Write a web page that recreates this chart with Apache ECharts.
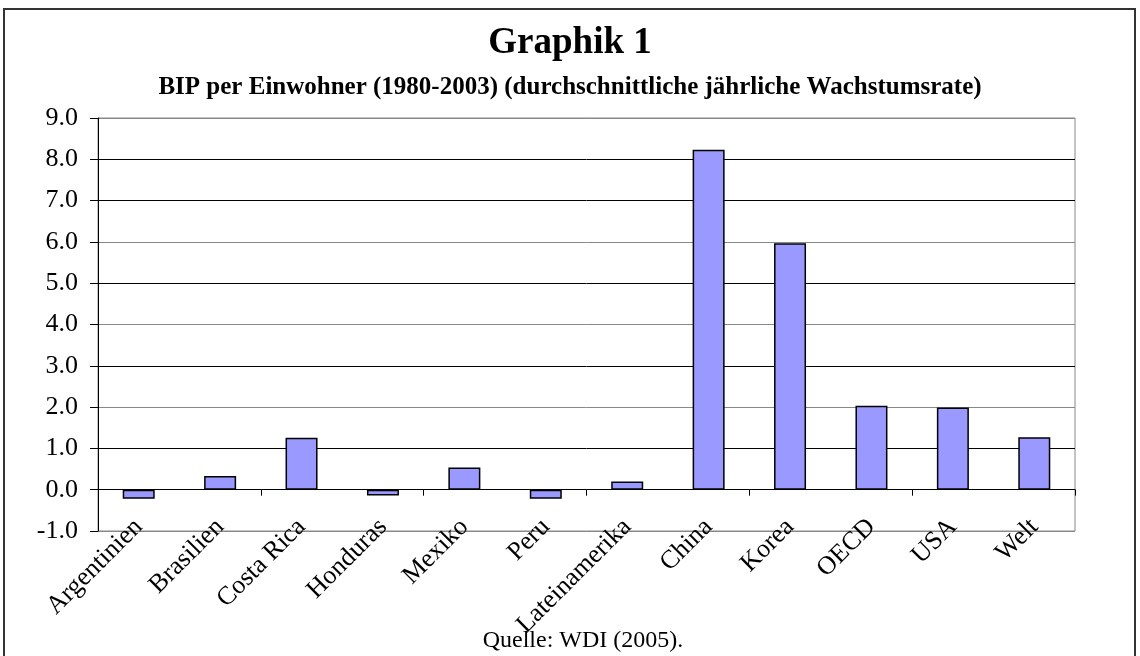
<!DOCTYPE html>
<html><head><meta charset="utf-8">
<script src="https://cdn.jsdelivr.net/npm/echarts@6/dist/echarts.min.js"></script>
<style>html,body{margin:0;padding:0;background:#fff}#c{width:1140px;height:656px}</style>
</head><body><div id="c"></div>
<script>
const categories = ['Argentinien','Brasilien','Costa Rica','Honduras','Mexiko','Peru','Lateinamerika','China','Korea','OECD','USA','Welt'];
const values = [-0.22, 0.33, 1.26, -0.14, 0.54, -0.22, 0.20, 8.23, 5.97, 2.03, 1.99, 1.27];
const titleText = 'Graphik 1';
const subtitleText = 'BIP per Einwohner (1980-2003) (durchschnittliche jährliche Wachstumsrate)';
const sourceText = 'Quelle: WDI (2005).';
const yMin = -1, yMax = 9, yStep = 1;

const font = '"Liberation Serif", "Times New Roman", serif';
const chart = echarts.init(document.getElementById('c'));
const gridColors = ['#888','#000','#000','#888','#000','#888','#000','#888','#000','#000','#888'];
chart.setOption({
  animation: false,
  title: [
    {text: titleText, left: 'center', top: 20, textStyle: {fontFamily: font, fontSize: 37, fontWeight: 'bold', color: '#000'}},
    {text: subtitleText, left: 'center', top: 70, textStyle: {fontFamily: font, fontSize: 25, fontWeight: 'bold', color: '#000'}},
    {text: sourceText, left: 578, top: 624, textAlign: 'center', textStyle: {fontFamily: font, fontSize: 24, fontWeight: 'normal', color: '#000'}}
  ],
  graphic: [{type: 'rect', shape: {x: 4, y: 9, width: 1131, height: 660}, style: {fill: 'none', stroke: '#333', lineWidth: 2}, silent: true}],
  grid: {left: 98, right: 65, top: 118, bottom: 125, show: true, borderColor: '#888', borderWidth: 1},
  xAxis: [
    {type: 'category', data: categories, position: 'bottom',
     axisLine: {show: false, onZero: false}, axisTick: {show: false},
     axisLabel: {rotate: 45, interval: 0, margin: -8, fontFamily: font, fontSize: 26, color: '#000'}},
    {type: 'category', data: categories, position: 'bottom',
     axisLine: {show: true, onZero: true, lineStyle: {color: '#000', width: 1}},
     axisTick: {show: true, length: 6, lineStyle: {color: '#000'}},
     axisLabel: {show: false}}
  ],
  yAxis: {type: 'value', min: yMin, max: yMax, interval: yStep,
    axisLine: {show: true, lineStyle: {color: '#000'}},
    axisTick: {show: true, length: 8, lineStyle: {color: '#000'}},
    axisLabel: {formatter: v => v.toFixed(1), margin: 20, fontFamily: font, fontSize: 26, color: '#000'},
    splitLine: {show: true, lineStyle: {color: gridColors, width: 1}}
  },
  series: [{type: 'bar', data: values, xAxisIndex: 0, barWidth: 32,
    itemStyle: {color: '#9999FF', borderColor: '#000', borderWidth: 1.5}}]
});
</script></body></html>
